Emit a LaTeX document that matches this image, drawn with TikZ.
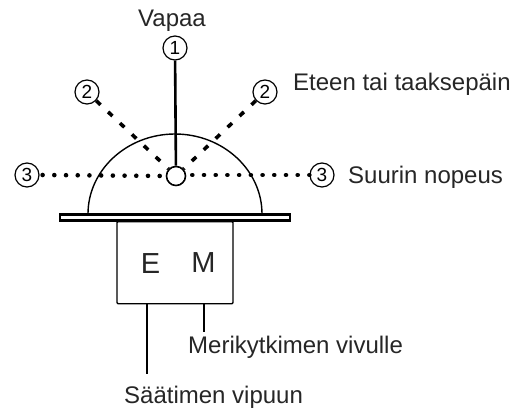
\documentclass[tikz,border=0pt]{standalone}
\usepackage{fontspec}
\setmainfont{Liberation Sans}
\begin{document}
\begin{tikzpicture}[x=1pt,y=-1pt,
  lab/.style={inner sep=0pt,font=\fontsize{24}{26}\selectfont,text=black!85,anchor=base west},
  posn/.style={circle,draw,line width=1.2pt,minimum size=24pt,inner sep=0pt,font=\fontsize{19}{20}\selectfont},
  dashl/.style={line width=3.6pt,dash pattern=on 6pt off 10.4pt},
  dotl/.style={line width=4.6pt,line cap=round,dash pattern=on 0.01pt off 11.7pt},
  thinline/.style={line width=1.4pt}]
\useasboundingbox (0,0) rectangle (520,412);
\node[posn] (p1) at (175,48) {1};
\node[posn] (p2l) at (87,92) {2};
\node[posn] (p2r) at (265,92) {2};
\node[posn] (p3l) at (27,175) {3};
\node[posn] (p3r) at (322,175) {3};
\draw[thinline] (88,214) .. controls (88,170) and (127,134) .. (175,134) .. controls (223,134) and (262,170) .. (262,214);
\node[circle,draw,fill=white,line width=1.6pt,minimum size=19pt,inner sep=0pt] (hub) at (176,176) {};
\draw[line width=2.6pt] (p1) -- (hub);
\draw[dashl] (p2l) -- (hub);
\draw[dashl] (p2r) -- (hub);
\draw[dotl] (p3l.east) ++(3,0) coordinate (a3l) (a3l) -- (hub.west);
\draw[dotl] (hub.east) ++(6,-1) coordinate (a3r) (a3r) -- (p3r.west);
\node[draw,line width=2.4pt,fill=white,minimum width=230pt,minimum height=6pt,inner sep=0pt] (plate) at (175,217.5) {};
\node[draw,line width=1.4pt,rounded corners=1pt,minimum width=116pt,minimum height=82pt,inner sep=0pt,anchor=north] (box) at (175,221) {};
\node[inner sep=0pt,font=\fontsize{29}{30}\selectfont,text=black!85] (e) at (150.5,264) {E};
\node[inner sep=0pt,font=\fontsize{29}{30}\selectfont,text=black!85] (m) at (203.5,263) {M};
\coordinate (j1) at (147,303);
\coordinate (j2) at (204,303);
\coordinate (t1) at (147,374);
\coordinate (t2) at (204,332);
\draw[thinline] (j1) -- (t1);
\draw[thinline] (j2) -- (t2);
\node[lab,anchor=base] (v) at (172,27) {Vapaa};
\node[lab] (et) at (293,91) {Eteen tai taaksepäin};
\node[lab] (su) at (348,183) {Suurin nopeus};
\node[lab] (me) at (188,353) {Merikytkimen vivulle};
\node[lab] (sa) at (124,403) {Säätimen vipuun};
\end{tikzpicture}
\end{document}
